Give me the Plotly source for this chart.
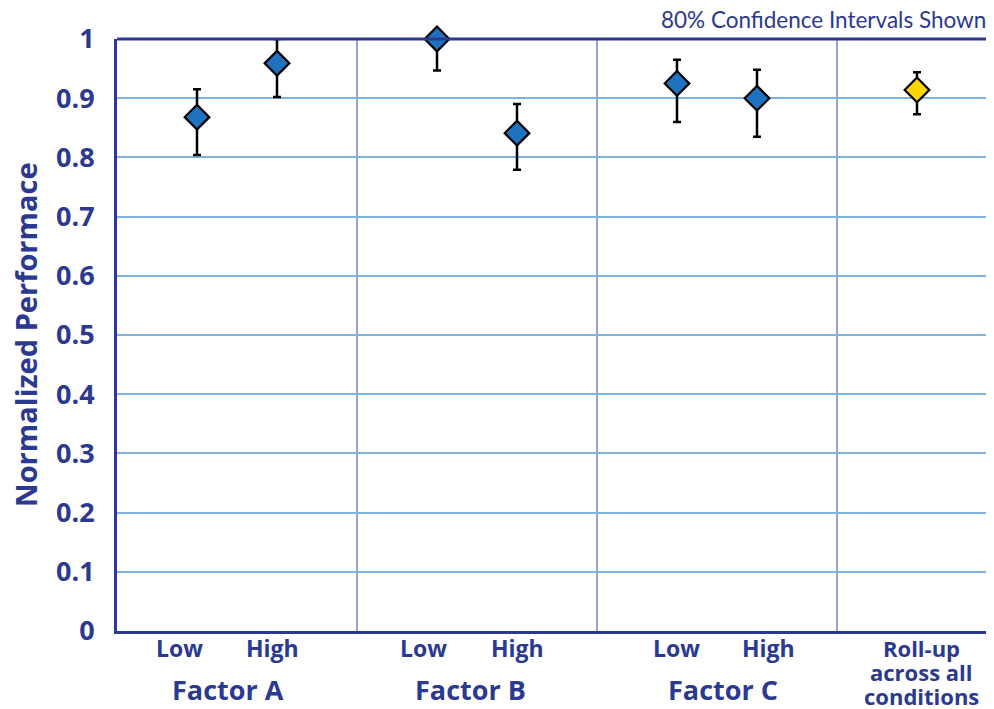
import plotly.graph_objects as go

# ---- data ----
factors = ["Factor A", "Factor B", "Factor C"]
levels = ["Low", "High"]
means = [0.868, 0.959, 1.000, 0.841, 0.925, 0.900]
err_plus = [0.047, 0.041, 0.000, 0.049, 0.040, 0.048]
err_minus = [0.064, 0.057, 0.053, 0.062, 0.065, 0.065]
rollup_lines = ["Roll-up", "across all", "conditions"]
rollup_mean = [0.914]
rollup_plus = [0.030]
rollup_minus = [0.041]
y_ticks = [0, 0.1, 0.2, 0.3, 0.4, 0.5, 0.6, 0.7, 0.8, 0.9, 1]
y_ticktext = ["0", "0.1", "0.2", "0.3", "0.4", "0.5", "0.6", "0.7", "0.8", "0.9", "1"]
note = "80% Confidence Intervals Shown"
y_title = "Normalized Performace"

# ---- styling ----
NAVY = "#2b3990"
BFONT = "Open Sans"
# small horizontal nudges (px) of the hand-placed labels in the original
level_label_nudge = [-18, -5, -14, 0, -1, 11]
factor_label_nudge = [-9, -7, 6]
rollup_label_nudge = 4

# x positions: each group spans 3 units, points at 1 and 2 within it
xs = []
labels = []
for gi, f in enumerate(factors):
    for li, lv in enumerate(levels):
        xs.append(gi * 3 + 1 + li)
        labels.append(lv)
x_roll = [len(factors) * 3 + 1]

fig = go.Figure()
fig.add_trace(go.Scatter(
    x=xs, y=means, mode="markers", cliponaxis=False,
    marker=dict(symbol="diamond", size=19, color="#1f72bf",
                line=dict(color="black", width=2.2)),
    error_y=dict(type="data", symmetric=False, array=err_plus, arrayminus=err_minus,
                 color="black", thickness=2.5, width=4),
    showlegend=False,
))
fig.add_trace(go.Scatter(
    x=x_roll, y=rollup_mean, mode="markers", cliponaxis=False,
    marker=dict(symbol="diamond", size=19, color="#ffd500",
                line=dict(color="black", width=2.2)),
    error_y=dict(type="data", symmetric=False, array=rollup_plus, arrayminus=rollup_minus,
                 color="black", thickness=2.5, width=4),
    showlegend=False,
))

shapes = []
for gi in range(1, len(factors) + 1):
    shapes.append(dict(type="line", xref="x", yref="paper", x0=gi * 3, x1=gi * 3,
                       y0=0, y1=1, line=dict(color="#5566b0", width=1.2), layer="below"))
shapes.append(dict(type="line", xref="paper", yref="paper", x0=0, x1=1, y0=1, y1=1,
                   line=dict(color=NAVY, width=3)))

annotations = []
for x, lv, nd in zip(xs, labels, level_label_nudge):
    annotations.append(dict(x=x, y=0, xref="x", yref="paper", yshift=-17, xshift=nd,
                            text=f"<b>{lv}</b>", showarrow=False, yanchor="middle",
                            font=dict(family=BFONT, size=23, color=NAVY)))
for gi, (f, nd) in enumerate(zip(factors, factor_label_nudge)):
    annotations.append(dict(x=gi * 3 + 1.5, y=0, xref="x", yref="paper", yshift=-58, xshift=nd,
                            text=f"<b>{f}</b>", showarrow=False, yanchor="middle",
                            font=dict(family=BFONT, size=27, color=NAVY)))
for i, line in enumerate(rollup_lines):
    annotations.append(dict(x=x_roll[0], y=0, xref="x", yref="paper", yshift=-17 - 24 * i,
                            xshift=rollup_label_nudge,
                            text=f"<b>{line}</b>", showarrow=False, yanchor="middle",
                            font=dict(family=BFONT, size=22, color=NAVY)))
annotations.append(dict(x=1, y=1.0, xref="paper", yref="paper", xanchor="right", yanchor="bottom",
                        yshift=4, xshift=-6, text=note, showarrow=False,
                        font=dict(family="Lato", size=22.5, color=NAVY)))
annotations.append(dict(x=-0.105, y=0.5, xref="paper", yref="paper", text=f"<b>{y_title}</b>",
                        textangle=-90, showarrow=False, xanchor="center", yanchor="middle",
                        font=dict(family=BFONT, size=29, color=NAVY)))

fig.update_layout(
    width=986, height=701,
    margin=dict(l=109, r=0, t=31, b=78),
    paper_bgcolor="white", plot_bgcolor="white",
    shapes=shapes, annotations=annotations,
    xaxis=dict(range=[0, 10.9625], showticklabels=False,
               showgrid=False, zeroline=False, showline=True, linecolor=NAVY, linewidth=3,
               ticks=""),
    yaxis=dict(range=[0, 1], tickvals=y_ticks, ticktext=[f"<b>{t}</b>" for t in y_ticktext],
               showgrid=True, gridcolor="#7fb3e0", gridwidth=1.5, zeroline=False,
               showline=True, linecolor=NAVY, linewidth=3, ticks="", ticklabelstandoff=14,
               tickfont=dict(family=BFONT, size=27, color=NAVY)),
)

fig.write_html("out.html")
